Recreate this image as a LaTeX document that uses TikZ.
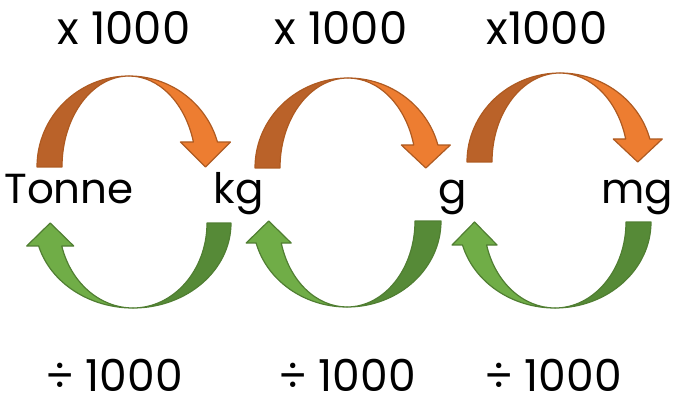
\documentclass[tikz,border=0pt]{standalone}
\usepackage{fontspec}
\setmainfont{Poppins}
\definecolor{oD}{HTML}{BA6229}
\definecolor{oL}{HTML}{ED7D31}
\definecolor{oE}{HTML}{AE5A21}
\definecolor{gD}{HTML}{568A37}
\definecolor{gL}{HTML}{70AD47}
\definecolor{gE}{HTML}{507E32}
\tikzset{
  lbl/.style={anchor=base, inner sep=0pt, font=\fontsize{45}{52}\selectfont},
  unit/.style={anchor=base, inner sep=0pt, font=\fontsize{42}{50}\selectfont},
  oback/.style={fill=oD, draw=oE, line width=1.2pt, line join=round},
  ofront/.style={fill=oL, draw=oE, line width=1.2pt, line join=round},
  gback/.style={fill=gD, draw=gE, line width=1.2pt, line join=round},
  gfront/.style={fill=gL, draw=gE, line width=1.2pt, line join=round},
}
% cx, B, R, r, H, d, hw
\newcommand\TopArrow[7]{%
  \pgfmathsetmacro\thA{asin(#6/#5)}%
  \pgfmathsetmacro\xcA{#1+(#3+#4)/2*cos(\thA)}%
  \path[oback] ({#1-#3},#2) arc[start angle=180,end angle=90,x radius=#3,y radius=#5]
    arc[start angle=90,end angle=180,x radius=#4,y radius=#5] -- cycle;
  \path[ofront] (#1,{#2+#5}) arc[start angle=90,end angle=\thA,x radius=#3,y radius=#5]
    -- ({\xcA+#7},{#2+#6}) -- (\xcA,#2) -- ({\xcA-#7},{#2+#6})
    -- ({#1+#4*cos(\thA)},{#2+#6}) arc[start angle=\thA,end angle=90,x radius=#4,y radius=#5] -- cycle;
}
\newcommand\BotArrow[7]{%
  \pgfmathsetmacro\thB{asin(#6/#5)}%
  \pgfmathsetmacro\xcB{#1-(#3+#4)/2*cos(\thB)}%
  \path[gback] ({#1+#3},#2) arc[start angle=0,end angle=-90,x radius=#3,y radius=#5]
    arc[start angle=-90,end angle=0,x radius=#4,y radius=#5] -- cycle;
  \path[gfront] (#1,{#2-#5}) arc[start angle=-90,end angle={-180+\thB},x radius=#3,y radius=#5]
    -- ({\xcB-#7},{#2-#6}) -- (\xcB,#2) -- ({\xcB+#7},{#2-#6})
    -- ({#1-#4*cos(\thB)},{#2-#6}) arc[start angle={-180+\thB},end angle=-90,x radius=#4,y radius=#5] -- cycle;
}
\begin{document}
\begin{tikzpicture}[x=1pt,y=1pt]
\useasboundingbox (0,0) rectangle (675,405);
\TopArrow{129}{238}{92}{67}{91}{25}{25}
\TopArrow{348}{237}{93}{68}{90}{23}{24.5}
\TopArrow{560}{243}{93}{68}{89}{23}{24.5}
\BotArrow{133}{182}{98}{74}{85}{23}{23.5}
\BotArrow{347}{184}{94}{68}{86}{22}{22.5}
\BotArrow{555}{183}{96}{71}{86}{23}{22.5}
\node[lbl] (m1) at (124,360) {x 1000};
\node[lbl] (m2) at (341,360) {x 1000};
\node[lbl] (m3) at (547,360) {x1000};
\node[unit] (u1) at (69,201) {Tonne};
\node[unit] (u2) at (239,201) {kg};
\node[unit] (u3) at (453,201) {g};
\node[unit, anchor=base east] (u4) at (673,201) {mg};
\node[lbl, font=\fontsize{44}{50}\selectfont] (d1) at (114,14) {÷ 1000};
\node[lbl, font=\fontsize{44}{50}\selectfont] (d2) at (347,14) {÷ 1000};
\node[lbl, font=\fontsize{44}{50}\selectfont] (d3) at (553,14) {÷ 1000};
\end{tikzpicture}
\end{document}
